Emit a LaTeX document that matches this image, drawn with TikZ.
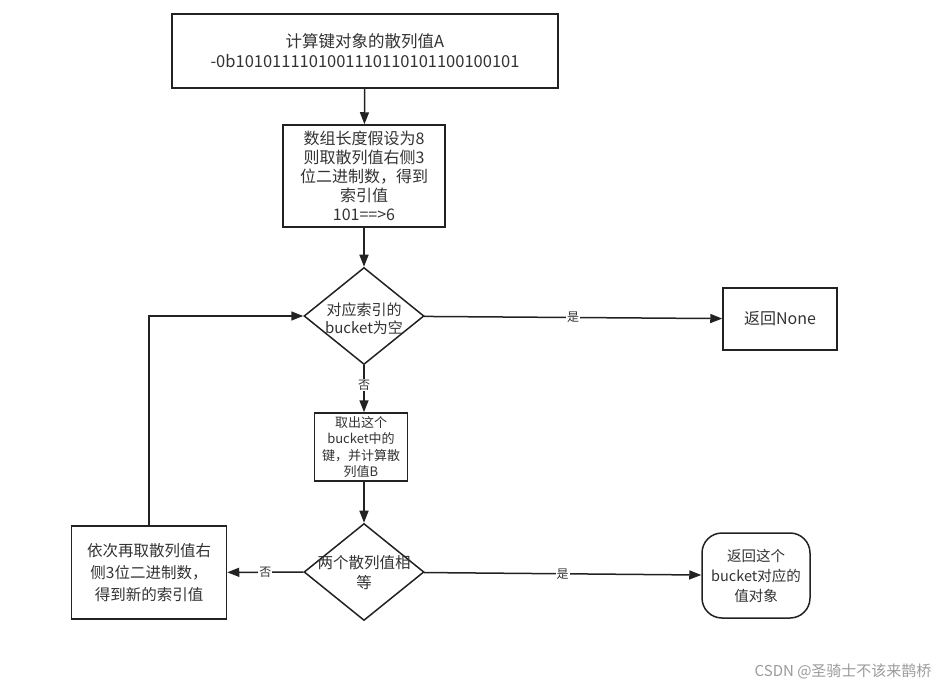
\documentclass[tikz,border=0pt]{standalone}
\usepackage{fontspec}
\setmainfont{Noto Sans CJK SC}
\usetikzlibrary{arrows.meta,shapes.geometric}
\definecolor{txt}{HTML}{333333}
\definecolor{ln}{HTML}{222222}
\definecolor{wm}{HTML}{9A9A9A}
\begin{document}
\begin{tikzpicture}[x=1pt,y=-1pt,
  box/.style={draw=ln,line width=1.5pt,fill=white,text=txt,align=center,inner sep=0pt},
  dia/.style={diamond,draw=ln,line width=1.5pt,fill=white,inner sep=0pt,minimum width=120pt,minimum height=97pt},
  dtxt/.style={text=txt,align=center,inner sep=0pt},
  arr/.style={draw=ln,line width=1.5pt,-{Triangle[length=12pt,width=9pt]}},
  lbl/.style={fill=white,text=txt,font=\fontsize{12}{13}\selectfont,inner sep=1pt}]
\useasboundingbox (0,0) rectangle (950,692);
\node[box,minimum width=386pt,minimum height=74pt,font=\fontsize{16.5}{20}\selectfont] (b1) at (365,51)
  {计算键对象的散列值A\\-0b1010111101001110110101100100101};
\node[box,minimum width=162pt,minimum height=102pt,font=\fontsize{16}{19}\selectfont] (b2) at (364,176)
  {数组长度假设为8\\则取散列值右侧3\\位二进制数，得到\\索引值\\101==>6};
\node[dia] (d1) at (364,316) {};
\node[dtxt,font=\fontsize{15}{18}\selectfont] (d1t) at (364,319) {对应索引的\\bucket为空};
\node[box,minimum width=114pt,minimum height=62pt,font=\fontsize{16}{19}\selectfont] (none) at (780,319) {返回None};
\node[box,minimum width=93pt,minimum height=68pt,font=\fontsize{13}{16.5}\selectfont] (b3) at (361,447)
  {取出这个\\bucket中的\\键，并计算散\\列值B};
\node[dia] (d2) at (364,572) {};
\node[dtxt,font=\fontsize{15.5}{20}\selectfont] (d2t) at (364,573) {两个散列值相\\等};
\node[box,minimum width=155pt,minimum height=93pt,font=\fontsize{15.5}{22}\selectfont] (b4) at (149,572.5)
  {依次再取散列值右\\侧3位二进制数，\\得到新的索引值};
\node[box,rounded corners=20pt,minimum width=108pt,minimum height=85pt,font=\fontsize{14.5}{20}\selectfont] (b5) at (756,575.5)
  {返回这个\\bucket对应的\\值对象};
\draw[arr] (b1) -- (b2);
\draw[arr] (b2) -- (d1);
\draw[arr] (d1) -- node[lbl,pos=0.5]{是} (none);
\draw[arr] (d1) -- node[lbl,pos=0.42]{否} (d1|-b3.north);
\draw[arr] (d2|-b3.south) -- (d2);
\draw[arr] (d2) -- node[lbl]{否} (b4);
\draw[arr] (d2) -- node[lbl]{是} (b5);
\draw[arr] (b4.north) |- (d1.west);
\node[text=wm,font=\fontsize{15}{18}\selectfont,anchor=east] (wmk) at (935,671) {CSDN @圣骑士不该来鹊桥};
\end{tikzpicture}
\end{document}
